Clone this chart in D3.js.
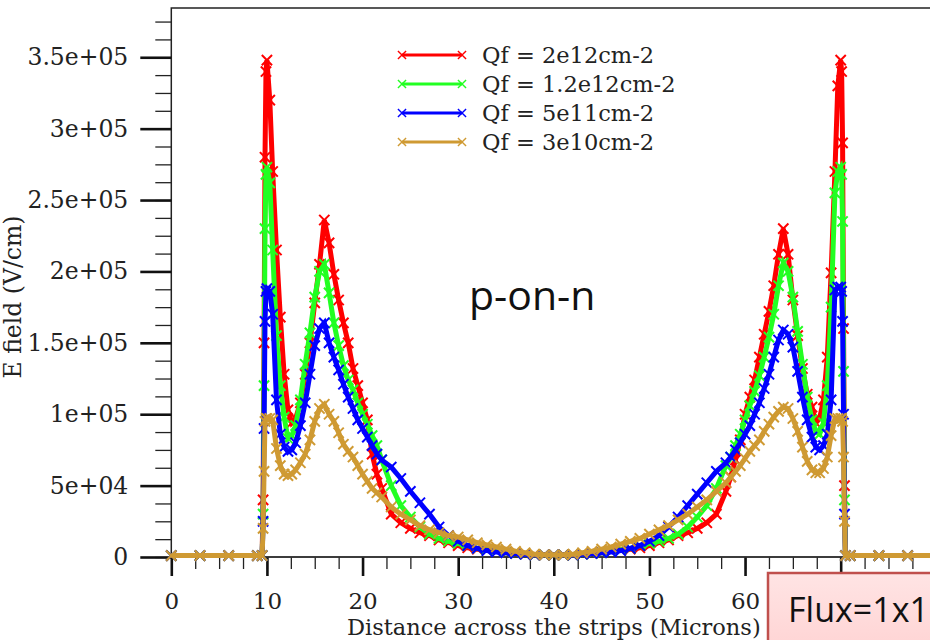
<!DOCTYPE html>
<html>
<head>
<meta charset="utf-8">
<script src="https://cdn.jsdelivr.net/npm/d3@7"></script>
<style>
  body { margin: 0; background: #fff; }
  svg { display: block; }
</style>
</head>
<body>
<div id="chart"></div>
<script>
// electric field across the strips, values in units of 1e3 V/cm
const xs = [0, 3, 6, 9, 9.5, 9.6, 9.7, 9.8, 9.9, 10, 10.3, 10.6, 11, 11.4, 11.8, 12.2, 12.6, 13, 13.5, 14,
  14.5, 15, 15.5, 16, 16.5, 17, 17.5, 18, 18.5, 19, 19.5, 20, 20.5, 21, 21.5, 22, 23, 24, 25, 26,
  27, 28, 29, 30, 31, 32, 33, 34, 35, 36, 37, 38, 39, 40,
  41, 42, 43, 44, 45, 46, 47, 48, 49, 50, 51, 52, 53, 54, 55, 56, 57,
  58, 58.5, 59, 59.5, 60, 60.5, 61, 61.5, 62, 62.5, 63, 63.5, 64, 64.5, 65, 65.5, 66, 66.5, 67, 67.4,
  67.8, 68.2, 68.6, 69, 69.4, 69.7, 70, 70.1, 70.2, 70.3, 70.4, 70.5, 71, 74, 77, 80];

const qf2e12 = [1, 1, 1, 1, 1, 40, 150, 280, 340, 348, 320, 270, 215, 168, 128, 103, 94, 97, 108, 128,
  150, 178, 205, 236, 220, 198, 180, 164, 150, 132, 120, 108, 96, 72, 58, 48, 30, 24, 20, 17,
  15, 12, 10, 8, 6.5, 5.5, 5, 4, 3, 2.5, 2, 1.5, 1.5, 1.5,
  1.5, 1.5, 2, 2.5, 3, 4, 5, 5.5, 6.5, 8, 10, 12, 15, 17, 20, 24, 30,
  46, 56, 68, 82, 100, 112, 124, 140, 156, 172, 190, 212, 230, 212, 180, 155, 132, 114, 105, 94,
  97, 110, 140, 199, 270, 330, 348, 340, 290, 160, 50, 1, 1, 1, 1, 1];

const qf12e12 = [1, 1, 1, 1, 1, 30, 120, 230, 268, 273, 262, 215, 155, 120, 98, 83, 85, 92, 110, 135,
  157, 182, 200, 205, 185, 164, 148, 134, 124, 117, 108, 100, 93, 85, 78, 68, 50, 36, 28, 21,
  16, 13, 11, 9.5, 8, 6, 5, 4, 3, 2.5, 2, 1.5, 1.5, 1.5,
  1.5, 1.5, 2, 2.5, 3, 4, 5, 6, 8, 9.5, 11, 13, 16, 21, 28, 36, 48,
  64, 70, 78, 86, 96, 106, 116, 127, 140, 154, 170, 190, 206, 200, 182, 158, 135, 112, 96, 88,
  86, 94, 120, 175, 255, 270, 273, 268, 235, 130, 40, 1, 1, 1, 1, 1];

const qf5e11 = [1, 1, 1, 1, 1, 25, 90, 165, 186, 188, 186, 170, 110, 86, 77, 74, 75, 80, 92, 108,
  128, 148, 160, 164, 150, 140, 131, 121, 112, 104, 96, 90, 84, 78, 72, 68, 63, 55, 46, 38,
  30, 21, 15, 11, 8, 6, 4.5, 3.5, 3, 2.5, 2, 1.5, 1.5, 1.5,
  1.5, 1.5, 2, 2.5, 3, 3.5, 4.5, 6, 8, 11, 15, 21, 28, 36, 44, 52, 60,
  66, 70, 75, 80, 86, 92, 100, 108, 118, 128, 140, 152, 159, 156, 147, 130, 112, 96, 84, 77,
  75, 78, 86, 110, 187, 189, 189, 186, 165, 100, 30, 1, 1, 1, 1, 1];

const qf3e10 = [1, 1, 1, 1, 1, 20, 60, 95, 97, 97, 97, 96, 76, 64, 58, 57, 58, 61, 66, 72,
  82, 95, 104, 107, 100, 95, 87, 79, 74, 70, 64, 58, 53, 48, 45, 42, 35, 30, 26, 22,
  19, 17, 15, 14, 12, 10, 8.5, 7, 5.5, 4, 3, 2, 1.5, 1.5,
  1.5, 2, 3, 4, 5.5, 7, 9, 11, 13, 16, 19, 22, 26, 30, 35, 40, 46,
  52, 56, 60, 64, 69, 74, 78, 82, 88, 93, 98, 102, 105, 104, 97, 88, 77, 67, 61, 59,
  59, 62, 70, 85, 97, 97, 97, 97, 95, 70, 25, 1, 1, 1, 1, 1];

const seriesNames = ['Qf = 2e12cm-2', 'Qf = 1.2e12cm-2', 'Qf = 5e11cm-2', 'Qf = 3e10cm-2'];
const seriesColors = ['#ff0000', '#22ff22', '#0000ff', '#cf9a33'];
const seriesValues = [qf2e12, qf12e12, qf5e11, qf3e10];

// labels for 70 and 80 sit under the annotation box in the picture
const xTicks = [0, 10, 20, 30, 40, 50, 60, 70, 80];
const xTickLabels = ['0', '10', '20', '30', '40', '50', '60', '', ''];
const yTicks = [0, 50000, 100000, 150000, 200000, 250000, 300000, 350000];
const yTickLabels = ['0', '5e+04', '1e+05', '1.5e+05', '2e+05', '2.5e+05', '3e+05', '3.5e+05'];

const width = 930;
const height = 640;
const serif = 'DejaVu Serif, serif';

let svg = d3.select('#chart')
    .append('svg')
    .attr('width', width)
    .attr('height', height);

let x = d3.scaleLinear().domain([0, 80]).range([171.3, 936.3]);
let y = d3.scaleLinear().domain([0, 384500]).range([557, 8]);

// frame
svg.append('rect')
    .attr('x', x(0)).attr('y', y(384500))
    .attr('width', x(80) - x(0)).attr('height', y(0) - y(384500))
    .attr('fill', 'none').attr('stroke', '#222').attr('stroke-width', 1.5);

// minor ticks
let xMinor = d3.range(0, 80.1, 2.5);
let yMinor = d3.range(0, 384500, 12500);

svg.append('g')
    .attr('transform', 'translate(0,' + y(0) + ')')
    .call(d3.axisBottom(x).tickValues(xMinor).tickSize(12).tickFormat(''))
    .call(g => g.select('.domain').remove())
    .call(g => g.selectAll('line').attr('stroke', '#222').attr('stroke-width', 1.3));

svg.append('g')
    .attr('transform', 'translate(' + x(0) + ',0)')
    .call(d3.axisLeft(y).tickValues(yMinor).tickSize(16).tickFormat(''))
    .call(g => g.select('.domain').remove())
    .call(g => g.selectAll('line').attr('stroke', '#222').attr('stroke-width', 1.3));

// major ticks
let xAxis = svg.append('g')
    .attr('transform', 'translate(0,' + y(0) + ')')
    .call(d3.axisBottom(x).tickValues(xTicks).tickSize(19).tickPadding(17)
        .tickFormat((d, i) => xTickLabels[i]));
xAxis.select('.domain').remove();
xAxis.selectAll('line').attr('stroke', '#111').attr('stroke-width', 2.6);
xAxis.selectAll('text').attr('font-family', serif).attr('font-size', 23).attr('fill', '#222');

let yAxis = svg.append('g')
    .attr('transform', 'translate(' + x(0) + ',0)')
    .call(d3.axisLeft(y).tickValues(yTicks).tickSize(31).tickPadding(12)
        .tickFormat((d, i) => yTickLabels[i]));
yAxis.select('.domain').remove();
yAxis.selectAll('line').attr('stroke', '#111').attr('stroke-width', 2.6);
yAxis.selectAll('text').attr('font-family', serif).attr('font-size', 23.5).attr('fill', '#222');

// x axis line
svg.append('line')
    .attr('x1', x(0)).attr('x2', x(80)).attr('y1', y(0)).attr('y2', y(0))
    .attr('stroke', '#333').attr('stroke-width', 1.5);

// series
let line = d3.line()
    .x(d => x(d[0]))
    .y(d => y(d[1] * 1000));
let marker = d3.symbol().type(d3.symbolX).size(70);

seriesValues.forEach((vals, i) => {
    let pts = xs.map((xv, j) => [xv, vals[j]]);
    let g = svg.append('g').attr('class', 'series');
    g.append('path')
        .datum(pts)
        .attr('d', line)
        .attr('fill', 'none')
        .attr('stroke', seriesColors[i])
        .attr('stroke-width', 5);
    g.selectAll('path.mk')
        .data(pts)
        .enter()
        .append('path')
        .attr('class', 'mk')
        .attr('transform', d => 'translate(' + x(d[0]) + ',' + y(d[1] * 1000) + ')')
        .attr('d', marker)
        .attr('fill', 'none')
        .attr('stroke', seriesColors[i])
        .attr('stroke-width', 2);
});

// legend
let legendMarker = d3.symbol().type(d3.symbolX).size(45);
let legend = svg.append('g').attr('transform', 'translate(402,55)');
seriesNames.forEach((name, i) => {
    let row = legend.append('g').attr('transform', 'translate(0,' + (i * 29) + ')');
    row.append('line')
        .attr('x1', 0).attr('x2', 60)
        .attr('stroke', seriesColors[i]).attr('stroke-width', 3);
    [0, 60].forEach(px => {
        row.append('path')
            .attr('transform', 'translate(' + px + ',0)')
            .attr('d', legendMarker)
            .attr('fill', 'none')
            .attr('stroke', seriesColors[i])
            .attr('stroke-width', 1.4);
    });
    row.append('text')
        .attr('x', 80).attr('y', 0).attr('dy', '0.35em')
        .attr('font-family', serif).attr('font-size', 22.5).attr('fill', '#222')
        .text(name);
});

// axis titles
svg.append('text')
    .attr('x', (x(0) + x(80)) / 2).attr('y', 635)
    .attr('text-anchor', 'middle')
    .attr('font-family', serif).attr('font-size', 22.5).attr('fill', '#222')
    .text('Distance across the strips (Microns)');

svg.append('text')
    .attr('transform', 'translate(21,297) rotate(-90)')
    .attr('text-anchor', 'middle')
    .attr('font-family', serif).attr('font-size', 23.5).attr('fill', '#222')
    .text('E field (V/cm)');

// annotation
svg.append('text')
    .attr('x', 469).attr('y', 310)
    .attr('font-family', 'Open Sans, sans-serif').attr('font-size', 41).attr('fill', '#111')
    .text('p-on-n');

let defs = svg.append('defs');
let grad = defs.append('linearGradient').attr('id', 'pink').attr('x1', 0).attr('x2', 0).attr('y1', 0).attr('y2', 1);
grad.append('stop').attr('offset', '0%').attr('stop-color', '#ffe4e4');
grad.append('stop').attr('offset', '100%').attr('stop-color', '#ffcfcf');

svg.append('rect')
    .attr('x', 768).attr('y', 573)
    .attr('width', 200).attr('height', 100)
    .attr('fill', 'url(#pink)')
    .attr('stroke', '#c0504d').attr('stroke-width', 2.5);

svg.append('text')
    .attr('x', 788).attr('y', 622)
    .attr('font-family', 'Open Sans, sans-serif').attr('font-size', 34).attr('fill', '#111')
    .text('Flux=1x1');
</script>
</body>
</html>
